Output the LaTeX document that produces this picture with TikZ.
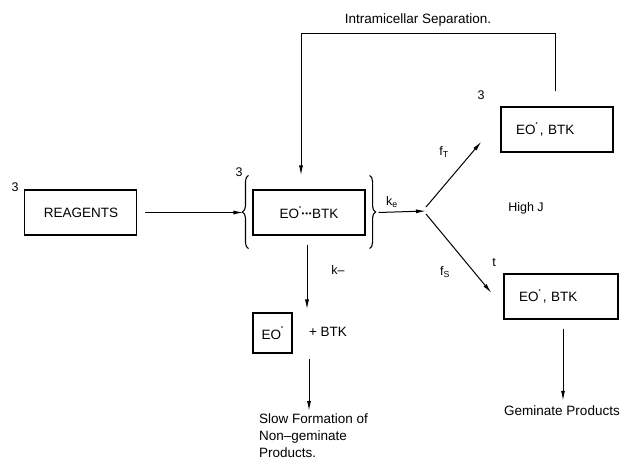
\documentclass[tikz,border=0pt]{standalone}
\usepackage{fontspec}
\setmainfont{Liberation Sans}
\usepackage{tikz}
\usetikzlibrary{positioning,arrows.meta,calc,decorations.pathreplacing}
\newcommand{\eodot}{\raisebox{1.35ex}{\fontsize{6}{6}\selectfont\textbullet}}
\newcommand{\dotsbond}{\raisebox{0.25ex}{\fontsize{8}{8}\selectfont\kern0.5pt\textbullet\kern0.8pt\textbullet\kern0.8pt\textbullet\kern0.5pt}}
\tikzset{
  species/.style={rectangle,draw=black,line width=1.1pt,align=center,minimum width=112pt,minimum height=45pt,inner sep=2pt},
  leftspecies/.style={species,align=left,inner xsep=15pt,text width=#1},
  smallspecies/.style={rectangle,draw=black,line width=1.1pt,minimum width=39pt,minimum height=40pt,inner sep=2pt},
  tag/.style={inner sep=1pt,font=\fontsize{12.5}{14}\selectfont},
  edge/.style={-{Latex[length=10pt,width=4pt]},line width=1pt},
  curly/.style={decorate,decoration={brace,amplitude=6pt},line width=1.1pt}
}
\begin{document}
\begin{tikzpicture}[x=1pt,y=-1pt,font=\fontsize{13.5}{17}\selectfont]
  \useasboundingbox (0,0) rectangle (628,471);
  % species boxes
  \node[species] (main) at (309,212.5) {EO\eodot\dotsbond BTK};
  \node[species,left=115pt of main] (reag) {REAGENTS};
  \node[leftspecies=82pt] (tripT) at (557,129.5) {EO\eodot\,, BTK};
  \node[leftspecies=84pt] (tripS) at (561,296.5) {EO\eodot\,, BTK};
  \node[smallspecies] (rad) at (272.5,333) {EO\eodot};
  \node[inner sep=1pt] (btk) at (328,332) {+ BTK};
  \node[anchor=north west,align=left,inner sep=0pt] (slow) at (259,414) {Slow Formation of\\Non--geminate\\Products.};
  \node[inner sep=1pt] (gem) at (562,411) {Geminate Products};
  % spin labels
  \node[tag] (spinR) at (15,187) {3};
  \node[tag] (spinM) at (239,172) {3};
  \node[tag] (spinT) at (481,95) {3};
  \node[tag] (spinS) at (494,263) {t};
  \node[tag] (ke) at (392,202) {k\textsubscript{e}};
  \node[tag] (fT) at (444,152) {f\textsubscript{T}};
  \node[tag] (fS) at (445,272) {f\textsubscript{S}};
  \node[tag] (km) at (338,270) {k--};
  \node[tag] (highJ) at (526,208) {High J};
  \node[tag,font=\fontsize{13.5}{17}\selectfont] (sep) at (418,20) {Intramicellar Separation.};
  % braces round the pair
  \draw[curly] ($(main.south west)+(-4,13)$) -- ($(main.north west)+(-4,-14)$);
  \draw[curly] ($(main.north east)+(4,-14)$) -- ($(main.south east)+(4,13)$);
  \coordinate (fork) at (426,211);
  \coordinate (loop) at (301,33);
  % arrows
  \draw[edge] ([xshift=8pt]reag.east) -- ([xshift=-9pt]main.west);
  \draw[edge] ([xshift=13pt]main.east) -- (fork);
  \draw[edge] ([yshift=4pt]fork) -- ($(tripT.south west)+(-19,-11)$);
  \draw[edge] ([yshift=-3pt]fork) -- ($(tripS.west)+(-12,-3.5)$);
  \draw[edge] ([xshift=-2pt,yshift=15pt]tripT.north) |- (loop) -- ([xshift=-8pt,yshift=14pt]main.north);
  \draw[edge,shorten >=3pt] ([xshift=-2pt,yshift=-9pt]main.south) -- ([xshift=-2pt]main.south |- rad.north);
  \draw[edge,shorten >=3pt] ([yshift=-5pt]main.south |- rad.south) -- (main.south |- slow.north);
  \draw[edge,shorten >=4pt] ([xshift=2pt,yshift=-9pt]tripS.south) -- ([xshift=2pt]tripS.south |- gem.north);
\end{tikzpicture}
\end{document}
